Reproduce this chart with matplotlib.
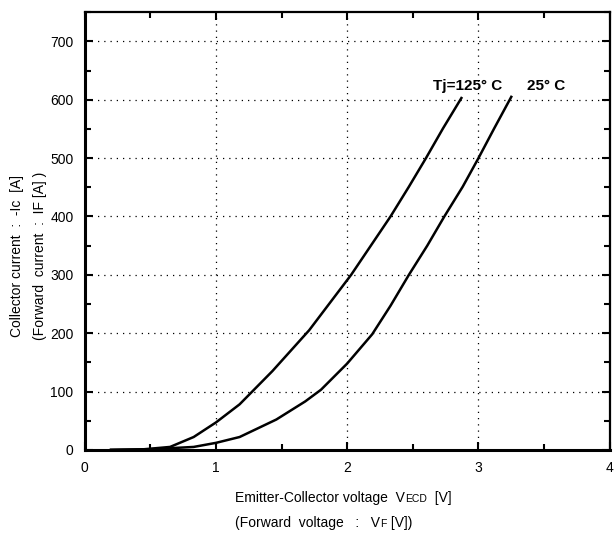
import matplotlib

matplotlib.use("Agg")
import matplotlib.pyplot as plt
from matplotlib import font_manager
from matplotlib.offsetbox import AnchoredOffsetbox, HPacker, TextArea
from matplotlib.ticker import MultipleLocator

plt.rcParams["font.family"] = ["Liberation Sans", "DejaVu Sans"]

# Tj = 125 C curve (V, A)
v_125 = [0.2, 0.45, 0.65, 0.83, 1.0, 1.18, 1.43, 1.71, 2.03, 2.33, 2.47, 2.6, 2.73, 2.87]
i_125 = [0, 1, 5, 22, 47, 78, 135, 205, 300, 400, 451, 500, 551, 603]

# Tj = 25 C curve
v_25 = [0.2, 0.5, 0.83, 1.0, 1.18, 1.46, 1.68, 1.8, 2.0, 2.19, 2.33, 2.47, 2.61,
        2.74, 2.88, 3.0, 3.12, 3.25]
i_25 = [0, 1, 5, 12, 22, 52, 83, 103, 148, 198, 247, 300, 350, 400, 451, 500, 551, 605]

x_ticks = [0, 1, 2, 3, 4]
y_ticks = [0, 100, 200, 300, 400, 500, 600, 700]

# narrow bold face for the curve labels, if there is one
_names = {f.name for f in font_manager.fontManager.ttflist}
if "Liberation Sans Narrow" in _names:
    curve_font, curve_size = "Liberation Sans Narrow", 12.5
else:
    curve_font, curve_size = "Liberation Sans", 11

fig = plt.figure(figsize=(6.14, 5.33), dpi=100)
ax = fig.add_axes([0.138, 0.156, 0.855, 0.821])

ax.plot(v_125, i_125, color="black", lw=1.8)
ax.plot(v_25, i_25, color="black", lw=1.8)

ax.set_xlim(0, 4)
ax.set_ylim(0, 750)
ax.set_xticks(x_ticks)
ax.set_yticks(y_ticks)
ax.xaxis.set_minor_locator(MultipleLocator(0.5))
ax.yaxis.set_minor_locator(MultipleLocator(50))
ax.tick_params(which="both", direction="in", top=True, right=True,
               width=1.5, labelsize=10, color="black")
ax.tick_params(which="major", length=6, pad=8)
ax.tick_params(which="minor", length=4)
ax.grid(which="major", color="black", ls=(0, (1, 4)), lw=0.9)

for side, lw in (("left", 2.2), ("bottom", 2.2), ("top", 1.6), ("right", 1.6)):
    ax.spines[side].set_linewidth(lw)

ax.text(2.65, 624, "Tj=125° C", fontsize=curve_size, fontweight="bold",
        family=curve_font, va="center")
ax.text(3.37, 624, "25° C", fontsize=curve_size, fontweight="bold",
        family=curve_font, va="center")

# y label, two lines
fig.text(0.028, 0.52, "Collector current  :  -Ic  [A]", rotation=90,
         fontsize=10, ha="center", va="center")
fig.text(0.065, 0.52, "(Forward  current  :  IF [A] )", rotation=90,
         fontsize=10, ha="center", va="center")


def label_line(parts, y):
    boxes = [TextArea(t, textprops=dict(fontsize=s)) for t, s in parts]
    pack = HPacker(children=boxes, align="baseline", pad=0, sep=0)
    box = AnchoredOffsetbox(loc="center left", child=pack, frameon=False,
                            bbox_to_anchor=(0.383, y),
                            bbox_transform=fig.transFigure, borderpad=0, pad=0)
    fig.add_artist(box)


label_line([("Emitter-Collector voltage  V", 10), ("ECD", 7.5), ("  [V]", 10)], 0.066)
label_line([("(Forward  voltage   :   V", 10), ("F", 7.5), (" [V])", 10)], 0.019)

fig.savefig("out.png", dpi=100)
